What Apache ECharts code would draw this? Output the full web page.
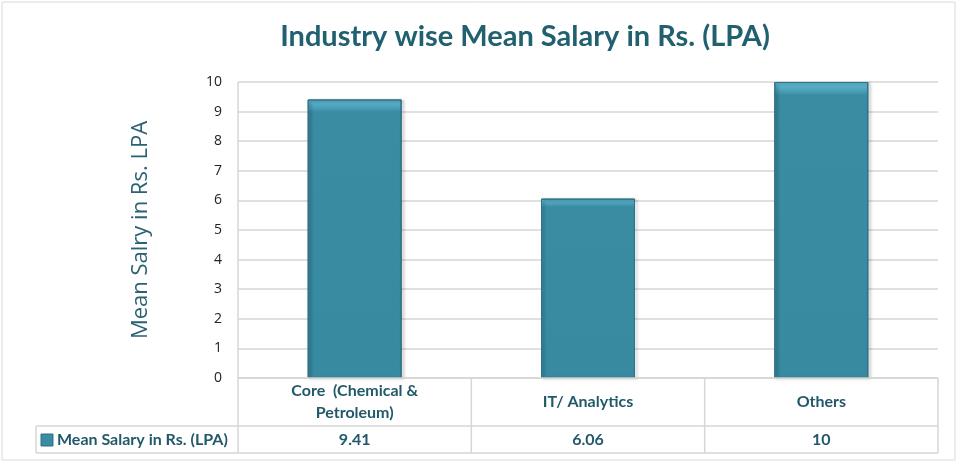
<!DOCTYPE html>
<html>
<head>
<meta charset="utf-8">
<script src="https://cdn.jsdelivr.net/npm/echarts@6/dist/echarts.min.js"></script>
<style>
  html, body { margin: 0; padding: 0; background: #fff; }
  #main { width: 959px; height: 464px; }
</style>
</head>
<body>
<div id="main"></div>
<script>
// data
var categories = ['Core  (Chemical &\nPetroleum)', 'IT/ Analytics', 'Others'];
var seriesName = 'Mean Salary in Rs. (LPA)';
var salaries = [9.41, 6.06, 10];
var yTicks = [0, 10, 1];   // min, max, interval

var textColor = '#22596A';
var lineColor = '#D6D6D6';

var myChart = echarts.init(document.getElementById('main'));

var option = {
    backgroundColor: '#fff',
    title: {
        text: 'Industry wise Mean Salary in Rs. (LPA)',
        left: 520,
        top: 17,
        textAlign: 'center',
        textStyle: { fontFamily: 'Lato', fontSize: 29, fontWeight: 'bold', color: '#21606F' }
    },
    grid: { left: 238, right: 21, top: 82, bottom: 86 },
    xAxis: [{
        type: 'category',
        data: categories,
        axisLine: { show: false },
        axisTick: { show: false },
        axisLabel: {
            margin: 24,
            verticalAlign: 'middle',
            fontFamily: 'Lato', fontSize: 16, fontWeight: 'bold', color: textColor,
            lineHeight: 22
        }
    }, {
        type: 'category',
        data: salaries.map(String),
        position: 'bottom',
        offset: 48,
        axisLine: { show: false },
        axisTick: { show: false },
        axisLabel: {
            margin: 14,
            verticalAlign: 'middle',
            fontFamily: 'Lato', fontSize: 16, fontWeight: 'bold', color: textColor
        }
    }],
    yAxis: {
        type: 'value',
        min: yTicks[0],
        max: yTicks[1],
        interval: yTicks[2],
        name: 'Mean Salry in Rs. LPA',
        nameLocation: 'middle',
        nameGap: 86,
        nameTextStyle: { fontFamily: 'Open Sans', fontSize: 22, color: '#2A6273' },
        axisLine: { show: false },
        axisTick: { show: false },
        axisLabel: { fontFamily: 'Open Sans', fontSize: 14, color: '#222', margin: 16 },
        splitLine: { lineStyle: { color: lineColor, width: 1.5 } }
    },
    series: [{
        name: seriesName,
        type: 'bar',
        data: salaries,
        barWidth: 94,
        itemStyle: {
            color: new echarts.graphic.LinearGradient(0, 0, 0, 1, [
                { offset: 0, color: '#63BDD6' },
                { offset: 0.03, color: '#4A9FB7' },
                { offset: 0.045, color: '#3A8CA3' },
                { offset: 1, color: '#378AA0' }
            ]),
            borderColor: '#2C7185',
            borderWidth: 1,
            shadowColor: 'rgba(0,0,0,0.35)',
            shadowBlur: 3,
            shadowOffsetX: 2,
            shadowOffsetY: 1
        }
    }]
};

myChart.setOption(option);

// data table lines, positioned from the axes
var x0 = myChart.convertToPixel({ xAxisIndex: 0 }, categories[0]);
var x1 = myChart.convertToPixel({ xAxisIndex: 0 }, categories[1]);
var step = x1 - x0;
var left = x0 - step / 2;
var right = left + step * categories.length;
var yZero = myChart.convertToPixel({ yAxisIndex: 0 }, 0);
var yMid = yZero + 48;
var yBot = yMid + 27;
var legLeft = 36;

var els = [];
function line(xa, ya, xb, yb) {
    els.push({ type: 'line', shape: { x1: xa, y1: ya, x2: xb, y2: yb },
        style: { stroke: lineColor, lineWidth: 1.5 }, z: 10 });
}
// vertical axis line through the table
line(left, myChart.convertToPixel({ yAxisIndex: 0 }, yTicks[1]), left, yBot);
line(left, yZero, right, yZero);
line(legLeft, yMid, right, yMid);
line(legLeft, yBot, right, yBot);
line(legLeft, yMid, legLeft, yBot);
for (var i = 1; i <= categories.length; i++) {
    line(left + step * i, yZero, left + step * i, yBot);
}
// legend key in table
els.push({ type: 'rect', shape: { x: legLeft + 5, y: yMid + 8, width: 12, height: 12 },
    style: { fill: '#3A8CA3', stroke: '#2C7185', lineWidth: 1 }, z: 10 });
els.push({ type: 'text', x: legLeft + 21, y: yMid + 14,
    style: { text: seriesName, fontFamily: 'Lato', fontSize: 16, fontWeight: 'bold',
        fill: textColor, verticalAlign: 'middle' }, z: 10 });
// outer frame
els.push({ type: 'rect', shape: { x: 2, y: 2, width: 953, height: 458 },
    style: { fill: 'none', stroke: '#D9D9D9', lineWidth: 1 }, z: 0 });

myChart.setOption({ graphic: els });
</script>
</body>
</html>
